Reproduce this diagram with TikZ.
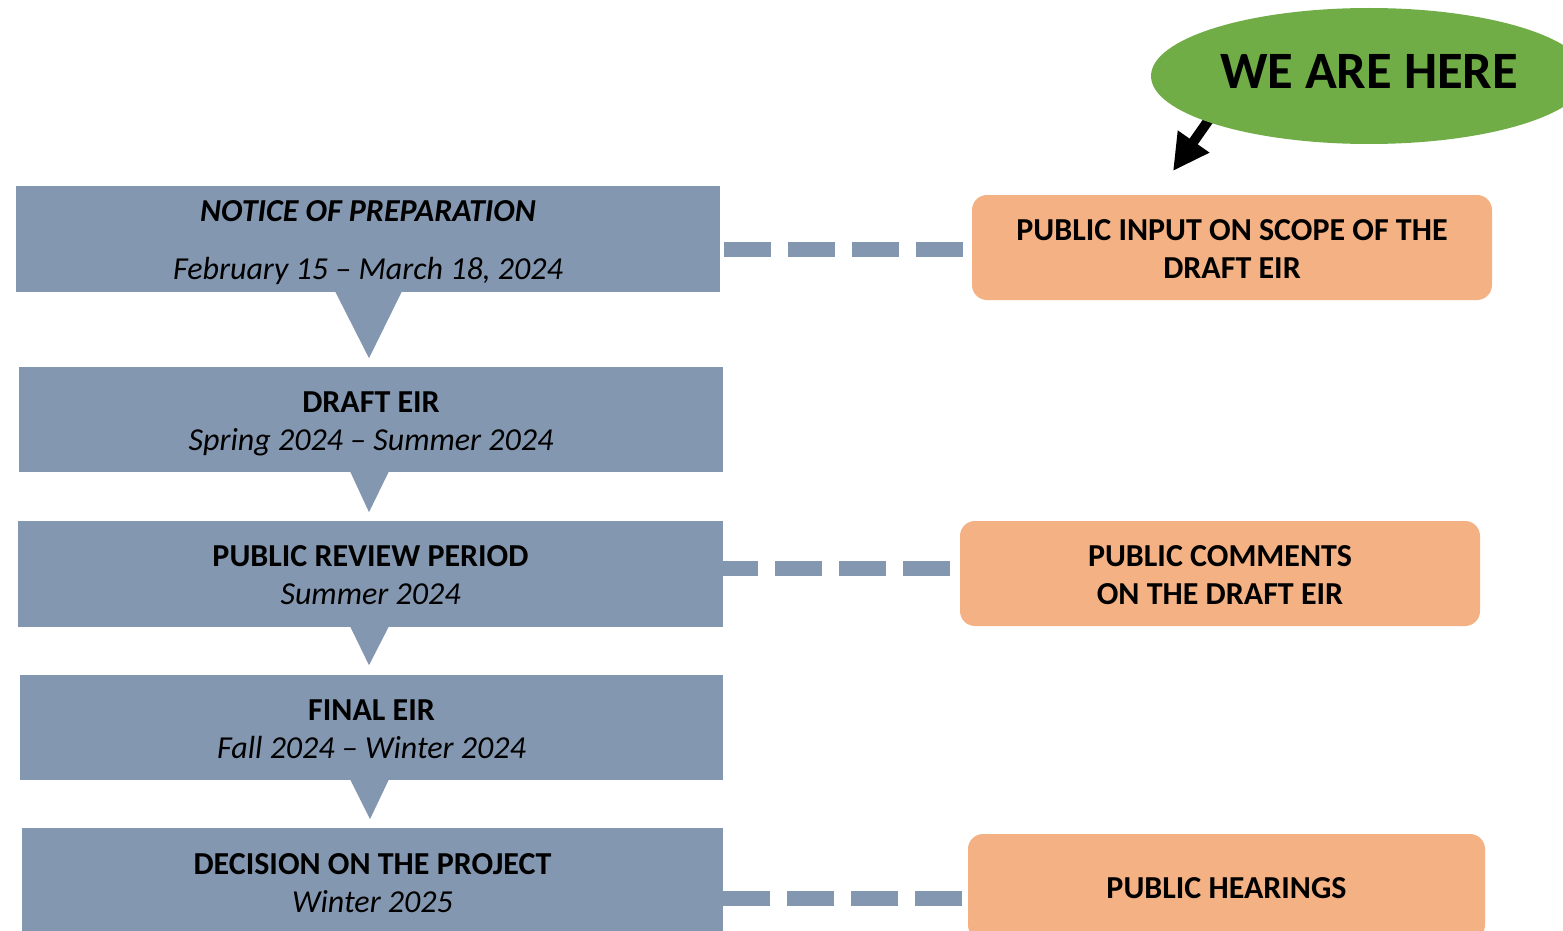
\documentclass[tikz,border=0pt]{standalone}
\usepackage{fontspec}
\setmainfont{Carlito}
\usetikzlibrary{shapes.geometric,arrows.meta,calc,backgrounds}
\definecolor{stepgray}{HTML}{8497B0}
\definecolor{pubor}{HTML}{F4B183}
\definecolor{heregreen}{HTML}{70AD47}
\newcommand{\topstrut}{\rule{0pt}{29.6pt}}
\newcommand{\botstrut}{\rule[-6pt]{0pt}{6pt}}
\begin{document}
\begin{tikzpicture}[x=1pt,y=-1pt,
  phase/.style={fill=stepgray, inner sep=0pt, minimum width=704pt, minimum height=105pt,
    align=center, font=\fontsize{32}{38}\selectfont},
  pub/.style={fill=pubor, rounded corners=15pt, inner sep=0pt, minimum width=520pt,
    minimum height=105pt, align=center, font=\fontsize{32}{38}\selectfont\bfseries},
  ptr/.style={fill=stepgray},
  link/.style={draw=stepgray, line width=15pt, dash pattern=on 47pt off 17pt},
  herearrow/.style={draw=black, line width=10pt, -{Triangle[length=36pt,width=36pt]}}]
\useasboundingbox (0,0) rectangle (1563,931);
\clip (0,0) rectangle (1563,931);

% phases
\node[phase, minimum height=106pt] (nop) at (368,239)
  {\topstrut\textbf{\textit{NOTICE OF PREPARATION}}\\[20pt]\textit{February 15 – March 18, 2024}\botstrut};
\node[phase] (draft) at (371,419.5)
  {\topstrut\textbf{DRAFT EIR}\\\textit{Spring 2024 – Summer 2024}\botstrut};
\node[phase, minimum width=705pt, minimum height=106pt] (review) at (370.5,574)
  {\topstrut\textbf{PUBLIC REVIEW PERIOD}\\\textit{Summer 2024}\botstrut};
\node[phase, minimum width=703pt] (final) at (371.5,727.5)
  {\topstrut\textbf{FINAL EIR}\\\textit{Fall 2024 – Winter 2024}\botstrut};
\node[phase, minimum width=701pt, minimum height=107pt] (decision) at (372.5,881.5)
  {\topstrut\textbf{DECISION ON THE PROJECT}\\\textit{Winter 2025}\botstrut};

% pointers
\fill[ptr] ($(nop.south)+(-33,-1)$) -- ($(nop.south)+(34,-1)$) -- ($(nop.south)+(1,66)$) -- cycle;
\fill[ptr] ($(draft.south)+(-21,-1)$) -- ($(draft.south)+(18,-1)$) -- ($(draft.south)+(-2,40)$) -- cycle;
\fill[ptr] ($(review.south)+(-20.5,-1)$) -- ($(review.south)+(18.5,-1)$) -- ($(review.south)+(-1.5,38)$) -- cycle;
\fill[ptr] ($(final.south)+(-21.5,-1)$) -- ($(final.south)+(17.5,-1)$) -- ($(final.south)+(-1.5,39)$) -- cycle;

% public involvement
\node[pub] (scope) at (1232,247.5) {\topstrut PUBLIC INPUT ON SCOPE OF THE\\DRAFT EIR\botstrut};
\node[pub] (comments) at (1220,573.5) {\topstrut PUBLIC COMMENTS\\ON THE DRAFT EIR\botstrut};
\node[pub, minimum width=517pt, minimum height=106pt] (hearings) at (1226.5,887) {\topstrut PUBLIC HEARINGS\botstrut};

% links
\coordinate (l1) at ($(scope.west)+(-9,1.5)$);
\coordinate (l2) at ($(comments.west)+(-10,-5.5)$);
\coordinate (l3) at ($(hearings.west)+(-6,11)$);
\draw[link] (l1) -- (l1 -| draft.east);
\draw[link] (l2) -- (l2 -| review.east);
\draw[link] (l3) -- (l3 -| decision.east);

% we are here
\node[ellipse, fill=heregreen, inner sep=0pt, minimum width=436pt, minimum height=136pt,
  text depth=10pt, font=\fontsize{52.5}{63}\selectfont\bfseries] (here) at (1369,76) {WE ARE HERE};
\coordinate (heretip) at (1173,171);
\coordinate (hereback) at ($(here.center)+(-147,25)$);
\begin{scope}[on background layer]
  \draw[herearrow] (hereback) -- (heretip);
\end{scope}
\end{tikzpicture}
\end{document}
